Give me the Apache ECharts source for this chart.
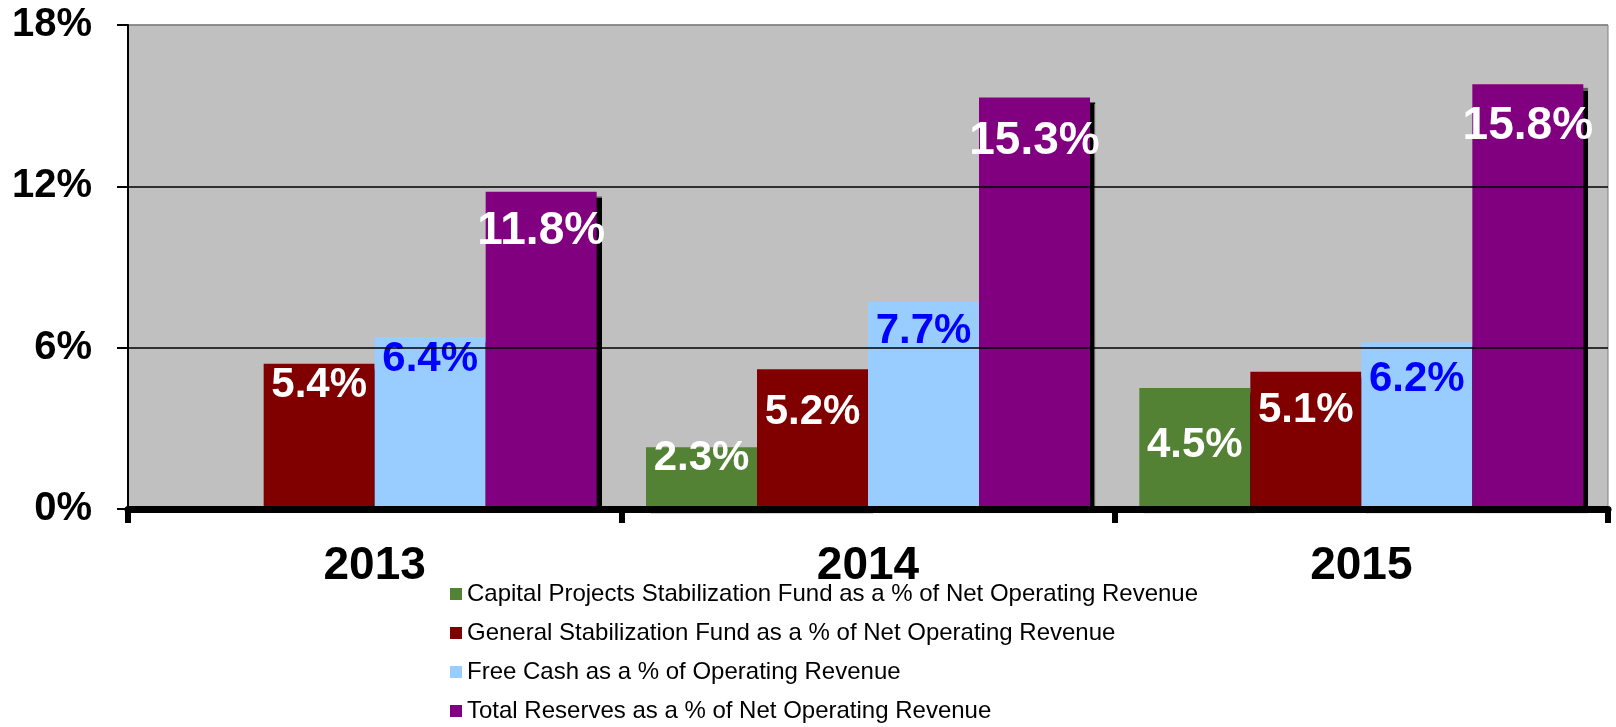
<!DOCTYPE html>
<html>
<head>
<meta charset="utf-8">
<script src="https://cdn.jsdelivr.net/npm/echarts@6/dist/echarts.min.js"></script>
<style>
html,body{margin:0;padding:0;background:#fff;}
#chart{width:1616px;height:727px;}
</style>
</head>
<body>
<div id="chart"></div>
<script>
// ---- data ----
const years = ['2013', '2014', '2015'];
const seriesNames = [
  'Capital Projects Stabilization Fund as a % of Net Operating Revenue',
  'General Stabilization Fund as a % of Net Operating Revenue',
  'Free Cash as a % of Operating Revenue',
  'Total Reserves as a % of Net Operating Revenue'
];
const capitalProjects = [null, 2.3, 4.5];
const generalStabilization = [5.4, 5.2, 5.1];
const freeCash = [6.4, 7.7, 6.2];
const totalReserves = [11.8, 15.3, 15.8];
const yTicks = [0, 6, 12, 18];

// ---- styling (kept separate from data) ----
const colors = ['#548235', '#800000', '#99CCFF', '#800080'];
const labelColors = ['#FFFFFF', '#FFFFFF', '#0000FF', '#FFFFFF'];
const labelSizes = [42, 42, 42, 46];
const labelShift = [
  [0, -10, 36],
  [1, 22, 18],
  [2, 8, 16],
  [17, 21, 19]
];
const FONT = '"Liberation Sans", Arial, sans-serif';

const allValues = [capitalProjects, generalStabilization, freeCash, totalReserves];

const series = allValues.map((vals, si) => ({
  name: seriesNames[si],
  type: 'bar',
  barGap: '0%',
  barCategoryGap: '10%',
  itemStyle: {
    color: colors[si],
    shadowColor: 'rgba(0,0,0,1)',
    shadowBlur: 1,
    shadowOffsetX: 5,
    shadowOffsetY: 4
  },
  data: vals.map((v, i) => ({
    value: v,
    label: { offset: [0, labelShift[si][i]] }
  })),
  label: {
    show: true,
    position: 'insideTop',
    distance: 0,
    formatter: p => p.value == null ? '' : p.value.toFixed(1) + '%',
    color: labelColors[si],
    fontSize: labelSizes[si],
    fontWeight: 'bold',
    fontFamily: FONT
  }
}));

const chart = echarts.init(document.getElementById('chart'), null, { renderer: 'canvas' });
chart.setOption({
  animation: false,
  backgroundColor: '#FFFFFF',
  color: colors,
  grid: {
    left: 128, right: 8, top: 25, bottom: 218,
    containLabel: false,
    outerBoundsMode: 'none',
    show: true,
    backgroundColor: '#C0C0C0',
    borderColor: '#808080',
    borderWidth: 1
  },
  legend: {
    orient: 'vertical',
    left: 450,
    top: 582,
    padding: 0,
    height: 145,
    itemWidth: 12,
    itemHeight: 12,
    itemGap: 15,
    icon: 'rect',
    itemStyle: { shadowColor: 'transparent', shadowBlur: 0, shadowOffsetX: 0, shadowOffsetY: 0 },
    textStyle: { fontSize: 24, lineHeight: 24, fontFamily: FONT, color: '#000' },
    data: seriesNames
  },
  xAxis: {
    type: 'category',
    data: years,
    z: 10,
    axisLine: { show: true, lineStyle: { color: '#000', width: 7 } },
    axisTick: { show: true, length: 14, lineStyle: { color: '#000', width: 6 } },
    axisLabel: { margin: 34, fontSize: 46, fontWeight: 'bold', fontFamily: FONT, color: '#000' },
    splitLine: { show: false }
  },
  yAxis: {
    type: 'value',
    min: yTicks[0],
    max: yTicks[yTicks.length - 1],
    interval: yTicks[1] - yTicks[0],
    z: 9,
    axisLine: { show: true, lineStyle: { color: '#000', width: 2 } },
    axisTick: { show: true, length: 11, lineStyle: { color: '#000', width: 2 } },
    axisLabel: {
      margin: 36, fontSize: 40, fontWeight: 'bold', fontFamily: FONT, color: '#000',
      formatter: '{value}%'
    },
    splitLine: { show: true, lineStyle: { color: ['#000', '#000', '#000', '#808080'], width: 1.5 } }
  },
  series: series
});
</script>
</body>
</html>
